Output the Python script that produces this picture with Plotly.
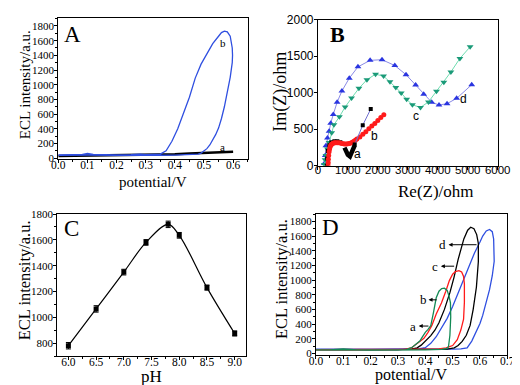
import plotly.graph_objects as go

# ---------------- dados ----------------
# A: ECL x potencial
a_pot_a = [0.00, 0.10, 0.20, 0.30, 0.40, 0.45, 0.50, 0.55, 0.60]
a_ecl_a = [30, 35, 38, 42, 55, 65, 72, 80, 88]
a_pot_b = [0.00, 0.02, 0.05, 0.08, 0.10, 0.12, 0.15, 0.20, 0.25, 0.28, 0.30, 0.33, 0.35,
           0.37, 0.39, 0.41, 0.43, 0.45, 0.47, 0.49, 0.51, 0.53, 0.55, 0.56, 0.57, 0.58,
           0.59, 0.597, 0.598, 0.597, 0.59, 0.58, 0.57, 0.56, 0.55, 0.54, 0.53, 0.52,
           0.51, 0.50, 0.49, 0.48, 0.46, 0.43, 0.40, 0.35, 0.30, 0.20, 0.10, 0.00]
a_ecl_b = [45, 50, 48, 50, 65, 52, 48, 45, 47, 55, 48, 50, 55,
           100, 230, 400, 620, 830, 1090, 1280, 1420, 1560, 1660, 1710, 1730, 1720,
           1660, 1500, 1400, 1300, 1100, 880, 700, 540, 410, 320, 240, 180,
           130, 100, 70, 55, 50, 45, 42, 40, 38, 40, 42, 40]

# B: Nyquist
b_re_a = [300, 310, 330, 380, 450, 550, 650, 750]
b_im_a = [0, 100, 200, 280, 320, 335, 335, 320]
b_re_a2 = [888, 1000, 1069, 1229]
b_im_a2 = [248, 150, 128, 280]
b_re_a3 = [1229, 1497, 1764]
b_im_a3 = [290, 556, 777]
b_re_b = [340, 345, 350, 360, 375, 390, 410, 430, 460, 490, 520, 560, 600, 650, 700, 750,
          800, 850, 900, 950, 1000, 1050, 1100, 1150, 1200, 1250, 1300, 1400, 1500, 1600,
          1700, 1800, 1900, 2000, 2100, 2200]
b_im_b = [0, 40, 90, 140, 190, 230, 260, 280, 295, 305, 310, 313, 315, 315, 313, 310,
          305, 300, 298, 298, 300, 305, 312, 322, 335, 350, 365, 395, 430, 465,
          505, 545, 580, 620, 660, 700]
b_re_c = [214, 240, 267, 320, 374, 460, 535, 717, 909, 1123, 1369, 1636, 1925, 2192, 2406,
          2600, 2781, 2962, 3155, 3423, 3690, 3957, 4203, 4438, 4738, 5080]
b_im_c = [18, 80, 141, 230, 318, 450, 560, 671, 803, 927, 1060, 1179, 1254, 1228, 1152,
          1073, 997, 910, 834, 799, 874, 1020, 1143, 1285, 1470, 1629]
b_re_d = [214, 246, 267, 320, 374, 428, 513, 642, 802, 1048, 1337, 1743, 2140, 2567, 2941,
          3262, 3530, 3797, 4042, 4310, 4630, 5133]
b_im_d = [31, 141, 274, 380, 472, 583, 702, 870, 1024, 1200, 1355, 1444, 1453, 1373, 1248,
          1106, 980, 870, 832, 850, 923, 1110]

# C: pH
ph = [6.0, 6.5, 7.0, 7.4, 7.8, 8.0, 8.5, 9.0]
ph_ecl = [780, 1065, 1350, 1580, 1720, 1635, 1230, 875]
ph_err = [25, 25, 22, 22, 25, 22, 20, 20]

# D: quatro curvas
d_pot_a = [0, 0.05, 0.1, 0.15, 0.2, 0.25, 0.3, 0.33, 0.35, 0.365, 0.38, 0.39, 0.40, 0.41,
           0.42, 0.43, 0.44, 0.45, 0.46, 0.47, 0.48, 0.487, 0.492, 0.493, 0.49, 0.485, 0.48,
           0.46, 0.44, 0.40, 0.30, 0.20, 0.10, 0.0]
d_ecl_a = [50, 52, 65, 50, 48, 50, 52, 55, 80, 122, 170, 230, 290, 330,
           380, 560, 760, 850, 885, 890, 860, 780, 690, 500, 250, 100, 70,
           58, 55, 52, 50, 50, 55, 50]
d_pot_b = [0, 0.05, 0.1, 0.15, 0.2, 0.25, 0.3, 0.33, 0.35, 0.365, 0.38, 0.395, 0.41, 0.424,
           0.44, 0.459, 0.475, 0.488, 0.50, 0.51, 0.523, 0.533, 0.540, 0.543, 0.543, 0.540,
           0.53, 0.517, 0.50, 0.476, 0.45, 0.40, 0.30, 0.20, 0.10, 0.0]
d_ecl_b = [55, 55, 62, 55, 52, 55, 58, 62, 80, 122, 160, 209, 290, 384,
           540, 689, 850, 994, 1080, 1115, 1130, 1110, 1050, 950, 700, 470,
           320, 190, 110, 78, 65, 60, 58, 55, 58, 55]
d_pot_c = [0, 0.05, 0.1, 0.15, 0.2, 0.25, 0.3, 0.35, 0.37, 0.385, 0.40, 0.42, 0.435, 0.45,
           0.47, 0.49, 0.505, 0.52, 0.541, 0.555, 0.566, 0.578, 0.588, 0.594, 0.594, 0.587,
           0.575, 0.564, 0.55, 0.535, 0.52, 0.506, 0.48, 0.40, 0.30, 0.20, 0.10, 0.0]
d_ecl_c = [50, 50, 58, 50, 48, 50, 52, 60, 78, 115, 166, 245, 318, 420,
           602, 830, 1038, 1280, 1561, 1680, 1720, 1700, 1620, 1500, 1250, 907,
           600, 384, 250, 166, 110, 78, 60, 55, 52, 50, 52, 50]
d_pot_d = [0, 0.05, 0.1, 0.15, 0.2, 0.25, 0.3, 0.35, 0.38, 0.40, 0.42, 0.44, 0.46, 0.48,
           0.50, 0.52, 0.54, 0.56, 0.58, 0.60, 0.61, 0.623, 0.635, 0.645, 0.650, 0.652,
           0.645, 0.635, 0.623, 0.61, 0.60, 0.587, 0.57, 0.553, 0.53, 0.50, 0.40, 0.30,
           0.20, 0.10, 0.0]
d_ecl_d = [60, 62, 70, 62, 60, 60, 62, 65, 68, 80, 140, 230, 350, 480,
           640, 820, 1010, 1200, 1370, 1520, 1600, 1670, 1690, 1660, 1560, 1256,
           1060, 870, 689, 520, 410, 297, 170, 78, 65, 62, 62, 60,
           60, 65, 60]

# ---------------- figura ----------------
W, H = 520, 385
SERIF = "Liberation Serif"
SANS = "Liberation Sans"
AZUL = "#2f4fe0"


def px(x):
    return x / W


def py(y):
    return 1 - y / H


fig = go.Figure()

# A
fig.add_trace(go.Scatter(x=a_pot_a, y=a_ecl_a, mode="lines", line=dict(color="black", width=2.5),
                         xaxis="x", yaxis="y"))
fig.add_trace(go.Scatter(x=a_pot_b, y=a_ecl_b, mode="lines", line=dict(color=AZUL, width=1.3),
                         xaxis="x", yaxis="y"))

# B
fig.add_trace(go.Scatter(x=b_re_d, y=b_im_d, mode="lines+markers",
                         line=dict(color="#8a8ae6", width=1),
                         marker=dict(symbol="triangle-up", size=6, color="#2a35e0"),
                         xaxis="x2", yaxis="y2"))
fig.add_trace(go.Scatter(x=b_re_c, y=b_im_c, mode="lines+markers",
                         line=dict(color="#6fdcb0", width=1),
                         marker=dict(symbol="triangle-down", size=6, color="#1a9a78"),
                         xaxis="x2", yaxis="y2"))
fig.add_trace(go.Scatter(x=b_re_a, y=b_im_a, mode="lines+markers",
                         line=dict(color="#333333", width=1),
                         marker=dict(symbol="square", size=4, color="black"),
                         xaxis="x2", yaxis="y2"))
fig.add_trace(go.Scatter(x=b_re_b, y=b_im_b, mode="lines+markers",
                         line=dict(color="#ff6060", width=1),
                         marker=dict(symbol="circle", size=5, color="#ff1a1a"),
                         xaxis="x2", yaxis="y2"))
fig.add_trace(go.Scatter(x=b_re_a2, y=b_im_a2, mode="lines", line=dict(color="black", width=4.5),
                         xaxis="x2", yaxis="y2"))
fig.add_trace(go.Scatter(x=b_re_a3, y=b_im_a3, mode="lines+markers",
                         line=dict(color="#7070d0", width=1),
                         marker=dict(symbol="square", size=4, color="black"),
                         xaxis="x2", yaxis="y2"))

# C
fig.add_trace(go.Scatter(x=ph, y=ph_ecl, mode="lines+markers",
                         line=dict(color="black", width=1.2, shape="spline", smoothing=1.0),
                         marker=dict(symbol="square", size=5, color="black"),
                         error_y=dict(type="data", array=ph_err, color="black", thickness=1, width=2.5),
                         xaxis="x3", yaxis="y3"))

# D
for xs, ys, cor in [(d_pot_d, d_ecl_d, AZUL), (d_pot_c, d_ecl_c, "black"),
                    (d_pot_b, d_ecl_b, "#ff1a1a"), (d_pot_a, d_ecl_a, "#138a55")]:
    fig.add_trace(go.Scatter(x=xs, y=ys, mode="lines", line=dict(color=cor, width=1.3),
                             xaxis="x4", yaxis="y4"))


def eixo(dom, rng, dtick, mdtick=None, fmt=None, fonte=SERIF, fsize=11, anchor=None, off=-8):
    d = dict(domain=dom, range=rng, dtick=dtick, tick0=0, showline=True, linecolor="black",
             linewidth=1, mirror=True, ticks="outside", ticklen=3, tickcolor="black",
             showgrid=False, zeroline=False, anchor=anchor, ticklabelstandoff=off,
             tickfont=dict(family=fonte, size=fsize, color="black"))
    if mdtick:
        d["minor"] = dict(dtick=mdtick, ticks="outside", ticklen=2, tickcolor="black")
    if fmt:
        d["tickformat"] = fmt
    return d


fig.update_layout(
    width=W, height=H, margin=dict(l=0, r=0, t=0, b=0),
    paper_bgcolor="white", plot_bgcolor="white", showlegend=False,
    xaxis=eixo([px(45), px(242)], [0, 0.65], 0.1, 0.05, ".1f", anchor="y", fsize=11.5),
    yaxis=eixo([py(150), py(4)], [-10, 1910], 200, 100, anchor="x", fsize=11, off=-2),
    xaxis2=eixo([px(315), px(502)], [0, 6000], 1000, fonte=SANS, fsize=11.5, anchor="y2", off=-9),
    yaxis2=eixo([py(157), py(6)], [0, 2000], 500, fonte=SANS, fsize=12, anchor="x2", off=-2),
    xaxis3=eixo([px(44), px(240)], [5.8, 9.2], 0.5, 0.25, ".1f", anchor="y3", fsize=11.5),
    yaxis3=eixo([py(354), py(207)], [700, 1800], 200, 100, anchor="x3", off=-2),
    xaxis4=eixo([px(313), px(512)], [0, 0.7], 0.1, 0.05, ".1f", anchor="y4", fsize=11.5),
    yaxis4=eixo([py(353), py(207)], [-20, 1900], 200, 100, anchor="x4", off=-2),
)

anots = []


def texto(t, x, y, size, fonte=SERIF, ang=0, xanchor="center", bold=False):
    if bold:
        t = "<b>" + t + "</b>"
    anots.append(dict(text=t, x=px(x), y=py(y), xref="paper", yref="paper", showarrow=False,
                      textangle=ang, xanchor=xanchor, yanchor="middle",
                      font=dict(family=fonte, size=size, color="black")))


# titulos dos eixos
texto("ECL intensity/a.u.", 10, 73, 15, ang=-90)
texto("potential/V", 143, 174, 15)
texto("Im(Z)/ohm", 276, 80, 18, ang=-90)
texto("Re(Z)/ohm", 438, 184, 17)
texto("ECL intensity/a.u.", 10, 276, 16.5, ang=-90)
texto("pH", 142, 375, 17)
texto("ECL intensity/a.u.", 277, 274, 16.5, ang=-90)
texto("potential/V", 412, 374, 16)

# letras dos paineis
texto("A", 49, 21, 23, xanchor="left")
texto("B", 325, 21, 22, xanchor="left", bold=True)
texto("C", 49, 222, 23, xanchor="left")
texto("D", 317, 221, 23, xanchor="left")

# rotulos das curvas
anots.append(dict(text="b", x=0.566, y=1570, xref="x", yref="y", showarrow=False,
                  font=dict(family=SERIF, size=11, color="black")))
anots.append(dict(text="a", x=0.562, y=150, xref="x", yref="y", showarrow=False,
                  font=dict(family=SERIF, size=11, color="black")))
for t, xx, yy in [("a", 1337, 155), ("b", 1893, 406), ("c", 3262, 680), ("d", 4866, 914)]:
    anots.append(dict(text=t, x=xx, y=yy, xref="x2", yref="y2", showarrow=False,
                      font=dict(family=SANS, size=12, color="black")))

# setas do painel D
d_labels = ["d", "c", "b", "a"]
d_lab_x = [0.464, 0.436, 0.392, 0.356]
d_head_x = [0.485, 0.457, 0.412, 0.376]
d_tail_x = [0.593, 0.511, 0.447, 0.417]
d_lab_y = [1482, 1190, 732, 375]
for t, lx, hx, tx, yy in zip(d_labels, d_lab_x, d_head_x, d_tail_x, d_lab_y):
    anots.append(dict(text=t, x=lx, y=yy, xref="x4", yref="y4", showarrow=False,
                      font=dict(family=SERIF, size=13, color="black")))
    anots.append(dict(text="", x=hx, y=yy, xref="x4", yref="y4", ax=tx, ay=yy,
                      axref="x4", ayref="y4", showarrow=True, arrowhead=2, arrowsize=0.8,
                      arrowwidth=1, arrowcolor="black"))

fig.update_layout(annotations=anots)

fig.write_html("out.html")
